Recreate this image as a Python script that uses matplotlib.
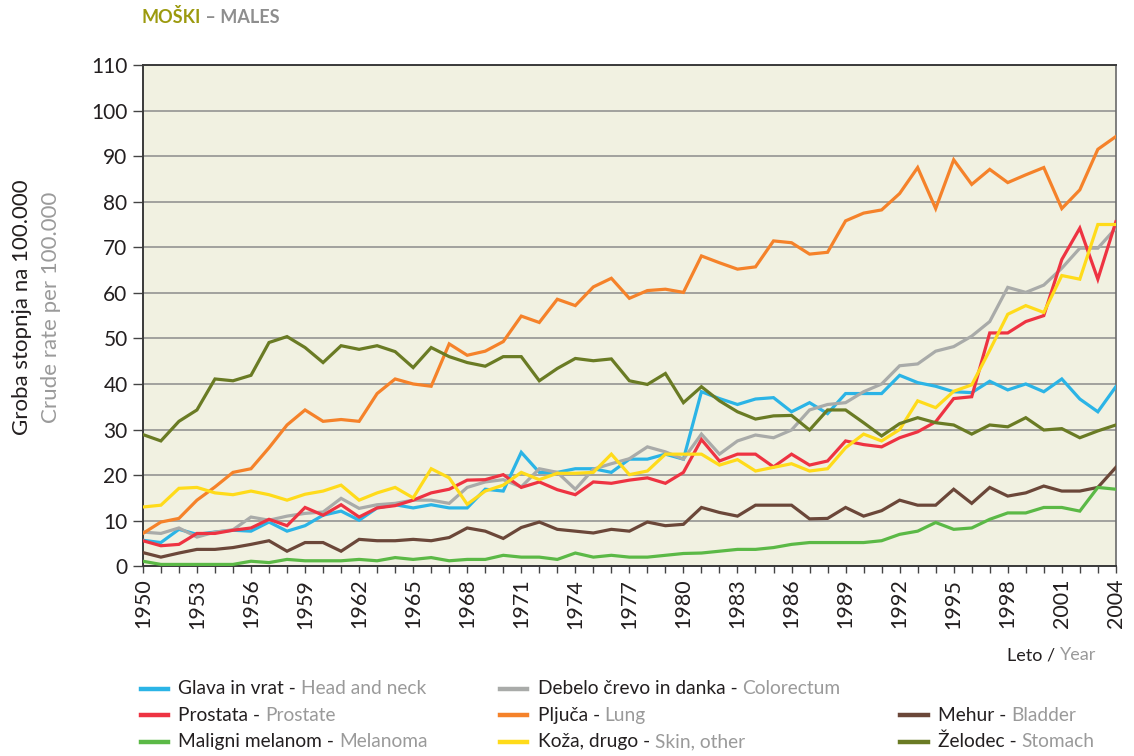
import numpy as np
import matplotlib
matplotlib.use('Agg')
import matplotlib.pyplot as plt
from matplotlib.ticker import MultipleLocator
from matplotlib.lines import Line2D

plt.rcParams['font.family'] = ['Lato', 'DejaVu Sans']

# ---------------------------------------------------------------------------
# Podatki (odčitano z grafa) - groba stopnja na 100.000, moški 1950-2004
# ---------------------------------------------------------------------------
years = list(range(1950, 2005))

glava_vrat = [5.7, 5.2, 8.1, 7.0, 7.5, 7.9, 7.7, 9.7, 7.7, 8.9,
              11.2, 12.1, 10.1, 12.8, 13.5, 12.8, 13.5, 12.8, 12.8, 16.9,
              16.5, 25.0, 20.6, 20.6, 21.4, 21.4, 20.6, 23.5, 23.5, 24.6,
              23.5, 38.3, 36.8, 35.5, 36.7, 37.0, 33.9, 35.9, 33.5, 37.9,
              37.9, 37.9, 41.9, 40.3, 39.5, 38.3, 38.1, 40.6, 38.7, 40.0,
              38.3, 41.1, 36.7, 33.9, 39.4]
debelo_crevo = [7.5, 7.2, 8.4, 6.4, 7.5, 8.0, 10.8, 10.1, 11.0, 11.6,
                11.9, 14.9, 12.7, 13.5, 13.8, 14.5, 14.5, 13.8, 17.3, 18.5,
                19.0, 17.4, 21.4, 20.6, 16.9, 21.3, 22.5, 23.6, 26.2, 25.1,
                23.5, 29.0, 24.6, 27.5, 28.8, 28.2, 29.9, 34.3, 35.5, 35.9,
                38.3, 40.0, 44.0, 44.4, 47.2, 48.2, 50.5, 53.7, 61.2, 60.1,
                61.7, 65.4, 69.8, 69.8, 74.2]
prostata = [5.6, 4.5, 4.8, 7.2, 7.2, 7.9, 8.4, 10.3, 8.9, 12.9,
            11.2, 13.5, 10.8, 12.8, 13.3, 14.5, 16.1, 16.9, 18.9, 19.0,
            20.1, 17.3, 18.5, 16.8, 15.7, 18.5, 18.2, 18.9, 19.4, 18.2,
            20.6, 27.8, 23.1, 24.6, 24.6, 21.8, 24.6, 22.2, 23.1, 27.5,
            26.7, 26.2, 28.2, 29.5, 31.7, 36.8, 37.2, 51.2, 51.2, 53.7,
            55.0, 67.3, 74.2, 63.0, 75.6]
pljuca = [7.2, 9.7, 10.5, 14.5, 17.4, 20.6, 21.4, 26.0, 31.0, 34.3,
          31.8, 32.2, 31.8, 37.9, 41.1, 40.0, 39.5, 48.8, 46.3, 47.2,
          49.3, 54.9, 53.5, 58.6, 57.2, 61.3, 63.2, 58.8, 60.5, 60.8,
          60.1, 68.1, 66.6, 65.2, 65.7, 71.4, 71.0, 68.5, 68.9, 75.8,
          77.5, 78.2, 81.8, 87.5, 78.5, 89.2, 83.8, 87.1, 84.2, 85.9,
          87.5, 78.5, 82.6, 91.5, 94.3]
mehur = [3.0, 2.0, 2.9, 3.7, 3.7, 4.1, 4.8, 5.6, 3.3, 5.2,
         5.2, 3.3, 5.9, 5.6, 5.6, 5.9, 5.6, 6.3, 8.4, 7.7,
         6.1, 8.5, 9.7, 8.1, 7.7, 7.3, 8.1, 7.7, 9.7, 8.9,
         9.2, 12.9, 11.8, 11.0, 13.4, 13.4, 13.4, 10.4, 10.5, 12.9,
         11.0, 12.2, 14.5, 13.4, 13.4, 16.9, 13.8, 17.3, 15.4, 16.1,
         17.6, 16.5, 16.5, 17.3, 21.7]
melanom = [1.1, 0.4, 0.4, 0.4, 0.4, 0.4, 1.1, 0.8, 1.5, 1.2,
           1.2, 1.2, 1.5, 1.2, 1.9, 1.5, 1.9, 1.2, 1.5, 1.5,
           2.4, 2.0, 2.0, 1.5, 2.9, 2.0, 2.4, 2.0, 2.0, 2.4,
           2.8, 2.9, 3.3, 3.7, 3.7, 4.1, 4.8, 5.2, 5.2, 5.2,
           5.2, 5.6, 7.0, 7.7, 9.6, 8.1, 8.4, 10.3, 11.7, 11.7,
           12.9, 12.9, 12.1, 17.3, 16.9]
koza = [13.0, 13.4, 17.1, 17.3, 16.1, 15.7, 16.5, 15.7, 14.5, 15.8,
        16.5, 17.8, 14.5, 16.1, 17.3, 15.0, 21.4, 19.4, 13.6, 16.5,
        17.8, 20.6, 19.0, 20.4, 20.4, 20.6, 24.6, 20.1, 20.9, 24.6,
        24.6, 24.6, 22.2, 23.4, 20.9, 21.7, 22.5, 20.9, 21.4, 26.0,
        29.0, 27.5, 30.0, 36.3, 34.8, 38.4, 39.8, 47.4, 55.3, 57.2,
        55.7, 63.8, 63.0, 75.0, 75.0]
zelodec = [28.9, 27.5, 31.8, 34.3, 41.1, 40.7, 41.9, 49.1, 50.4, 48.0,
           44.7, 48.4, 47.6, 48.4, 47.1, 43.6, 48.0, 46.0, 44.7, 43.9,
           46.0, 46.0, 40.7, 43.4, 45.6, 45.1, 45.5, 40.7, 39.9, 42.3,
           35.9, 39.4, 36.3, 33.9, 32.3, 33.0, 33.1, 29.9, 34.3, 34.3,
           31.5, 28.6, 31.3, 32.6, 31.5, 31.0, 29.0, 31.0, 30.6, 32.6,
           29.9, 30.2, 28.2, 29.7, 31.0]

# (slovensko, angleško, podatki, barva)
series = [
    ('Glava in vrat', 'Head and neck', glava_vrat, '#2BB4E6'),
    ('Debelo črevo in danka', 'Colorectum', debelo_crevo, '#A9ABA9'),
    ('Prostata', 'Prostate', prostata, '#EE3342'),
    ('Pljuča', 'Lung', pljuca, '#F5822A'),
    ('Mehur', 'Bladder', mehur, '#6B4739'),
    ('Maligni melanom', 'Melanoma', melanom, '#5BB946'),
    ('Koža, drugo', 'Skin, other', koza, '#FFDB1A'),
    ('Želodec', 'Stomach', zelodec, '#6A7B24'),
]

BLACK, GREY = '#231F20', '#9A9A9A'

fig = plt.figure(figsize=(11.34, 7.56), dpi=100)
ax = fig.add_axes([0.126, 0.251, 0.858, 0.663])
ax.set_facecolor('#F1F1E1')

for slo, eng, vals, col in series:
    ax.plot(years, vals, color=col, linewidth=2.3, solid_joinstyle='miter', zorder=3)

ax.set_xlim(1950, 2004)
ax.set_ylim(0, 110)
ax.yaxis.set_major_locator(MultipleLocator(10))
ax.xaxis.set_major_locator(MultipleLocator(3))
ax.xaxis.set_minor_locator(MultipleLocator(1))
ax.grid(axis='y', color='#8C8C8C', linewidth=1.1, zorder=1)
ax.tick_params(axis='y', direction='out', length=7, width=1, color='#444',
               labelsize=15, labelcolor=BLACK, pad=4)
ax.tick_params(axis='x', which='both', direction='out', length=5, width=1,
               color='#444', labelsize=15.5, labelcolor=BLACK, rotation=90, pad=4)
for s in ['left', 'bottom', 'top']:
    ax.spines[s].set_color('#3A3A3A')
    ax.spines[s].set_linewidth(1.4)
ax.spines['right'].set_color('#6A6A6A')
ax.spines['right'].set_linewidth(1.2)

# Naslov
t = fig.text(0.125, 0.977, 'MOŠKI', color='#9C9A0E', fontsize=13,
             fontweight='bold', va='center')
ax.annotate(' – MALES', xy=(1, 0), xycoords=t, color='#8E8E8E',
            fontsize=13, fontweight='bold', va='bottom')

# Oznaka osi y (dve vrstici)
fig.text(0.019, 0.594, 'Groba stopnja na 100.000', rotation=90,
         color=BLACK, fontsize=16, ha='center', va='center')
fig.text(0.045, 0.594, 'Crude rate per 100.000', rotation=90,
         color=GREY, fontsize=16, ha='center', va='center')

# Oznaka osi x
t = fig.text(0.888, 0.133, 'Leto / ', color=BLACK, fontsize=13, va='center')
ax.annotate('Year', xy=(1, 0), xycoords=t, color=GREY, fontsize=13, va='bottom')

# Legenda
col_x = [0.124, 0.441, 0.794]
row_y = [0.089, 0.054, 0.019]
slots = [(0, 0), (0, 1), (1, 0), (1, 1), (1, 2), (2, 0), (2, 1), (2, 2)]
for (r, c), (slo, eng, vals, col) in zip(slots, series):
    x0, y0 = col_x[c], row_y[r]
    fig.add_artist(Line2D([x0, x0 + 0.024], [y0, y0], color=col,
                          linewidth=3.2, transform=fig.transFigure))
    t = fig.text(x0 + 0.033, y0, slo + ' - ', color=BLACK, fontsize=13.8,
                 va='center')
    ax.annotate(eng, xy=(1, 0), xycoords=t, color=GREY, fontsize=13.8,
                va='bottom')

fig.savefig('out.png', dpi=100, facecolor='white')
